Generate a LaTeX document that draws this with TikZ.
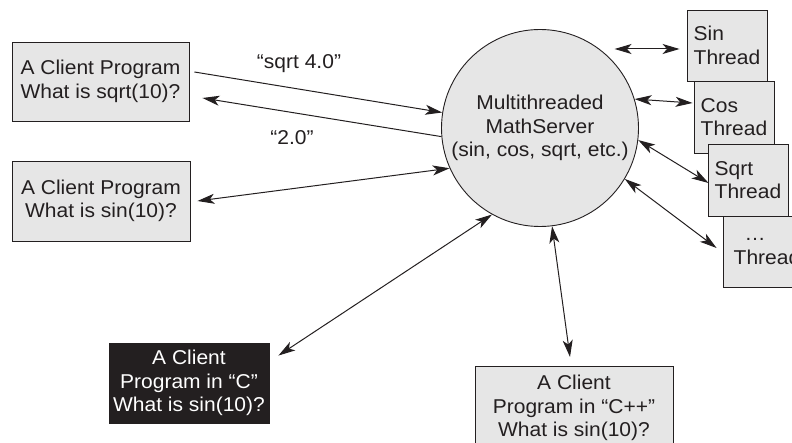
\documentclass[tikz,border=0pt]{standalone}
\usepackage{fontspec}
\setmainfont{Liberation Sans}[FakeStretch=1.05]
\usetikzlibrary{arrows.meta}
\definecolor{ink}{HTML}{231F20}
\definecolor{paper}{HTML}{E6E6E6}
\begin{document}
\begin{tikzpicture}[x=1pt,y=-1pt,
  every node/.style={font=\fontsize{20}{23.5}\selectfont, text=ink},
  box/.style={draw=ink, fill=paper, line width=0.9pt, align=center, inner sep=0pt},
  darkbox/.style={box, fill=ink, text=white},
  thread/.style={box, align=left, minimum width=80pt, minimum height=71pt},
  link/.style={draw=ink, line width=1pt},
  >={Stealth[length=17pt,width=10pt,inset=4.5pt]},
]
\useasboundingbox (0,0) rectangle (792,443);

% client programs
\node[box, minimum width=177pt, minimum height=79pt] (c1) at (100.5,81.5)
  {A Client Program\\What is sqrt(10)?};
\node[box, minimum width=178pt, minimum height=80pt] (c2) at (101,201)
  {A Client Program\\What is sin(10)?};
\node[darkbox, minimum width=160pt, minimum height=80pt] (cc) at (189,383)
  {A Client\\Program in “C”\\What is sin(10)?};
\node[box, anchor=north, minimum width=198pt, inner ysep=9pt] (cpp) at (574,366)
  {A Client\\Program in “C++”\\What is sin(10)?};

% the server
\node[circle, draw=ink, fill=paper, line width=0.9pt, minimum size=197pt,
      inner sep=0pt, align=center] (server) at (540,128)
  {Multithreaded\\MathServer\\(sin, cos, sqrt, etc.)};

% worker threads, each one stacked over the previous
\node[thread] (tsin)  at (727,45.5) {Sin\\Thread};
\node[thread, minimum height=72pt] (tcos)  at (734,117) {Cos\\Thread};
\node[thread, minimum height=72pt] (tsqrt) at (748,180) {Sqrt\\Thread};
\node[thread, minimum width=88pt] (tdots) at (767,251.5) {\hspace*{11pt}…\\Thread};

% request / reply labels
\node (q1) at (299,64) {“sqrt 4.0”};
\node (a1) at (292,138) {“2.0”};

% connectors
\draw[link,->] ([xshift=5pt,yshift=9.5pt]c1.east) -- (server.171);
\draw[link,->] (server.185) -- ([xshift=13pt,yshift=-16.5pt]c1.east);
\draw[link,<->] ([xshift=7pt]c2.east) -- (server.204);
\draw[link,<->] ([xshift=9pt,yshift=-13pt]cc.north east) -- (server.241);
\draw[link,<->] ([xshift=-4pt,yshift=9pt]cpp.north) -- (server.277);
\draw[link,<->] ([xshift=-72pt,yshift=-3.5pt]tsin.west) -- ([xshift=-7pt,yshift=-3.5pt]tsin.west);
\draw[link,<->] (server.17) -- ([xshift=-1pt,yshift=14pt]tcos.west);
\draw[link,<->] (server.-7) -- ([xshift=1pt,yshift=-3pt]tsqrt.west);
\draw[link,<->] (server.-31) -- ([xshift=-6pt,yshift=3.5pt]tdots.west);
\end{tikzpicture}
\end{document}
